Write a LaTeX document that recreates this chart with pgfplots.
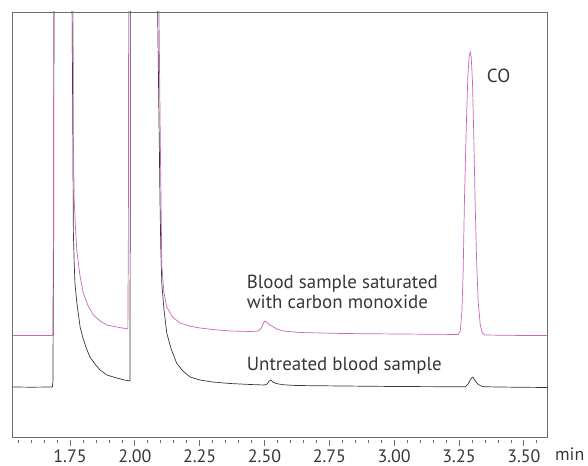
\documentclass[border=0pt]{standalone}
\usepackage{pgfplots}
\pgfplotsset{compat=1.18}
\usepackage{fontspec}
\setmainfont{PT Sans}
\definecolor{pinkline}{RGB}{204,102,187}
\definecolor{darkline}{RGB}{55,55,55}
\definecolor{framegray}{RGB}{110,110,110}
\begin{document}
\begin{tikzpicture}
\path[use as bounding box] (-12.7bp,-29bp) rectangle (575.3bp,437bp);
\begin{axis}[
  at={(0,0)}, anchor=south west,
  scale only axis, width=535bp, height=425bp,
  xmin=1.529, xmax=3.592, ymin=0, ymax=425,
  xtick=\empty, ytick=\empty,
  axis line style={framegray, line width=0.7bp},
  clip mode=individual,
  font=\fontsize{19}{20}\selectfont,
]
\addplot[darkline, line width=0.7bp] coordinates {
(1.529,50) (1.600,49.8) (1.682,50) (1.684,55) (1.687,200) (1.689,600)
(1.756,600) (1.758,425) (1.761,300) (1.763,204) (1.766,175) (1.769,154) (1.776,135)
(1.789,110) (1.801,98) (1.814,88) (1.827,80) (1.846,73) (1.866,67) (1.892,62)
(1.930,59) (1.960,57) (1.981,56) (1.982,200) (1.983,600)
(2.086,600) (2.088,425) (2.093,320) (2.097,237) (2.100,190) (2.104,154) (2.112,128)
(2.123,104) (2.140,88) (2.161,74) (2.185,66) (2.213,60) (2.251,57) (2.300,55)
(2.367,53.5) (2.444,52.5) (2.500,52) (2.510,53) (2.518,56) (2.524,57) (2.532,55)
(2.545,53.5) (2.570,52.3) (2.620,51.5) (2.800,51) (3.000,50.5) (3.200,50.3)
(3.275,50.3) (3.285,53) (3.295,58) (3.303,60) (3.312,56.5) (3.322,53) (3.335,51)
(3.344,50.3) (3.400,50) (3.500,49.7) (3.592,49.5)
};
\addplot[pinkline, line width=0.7bp] coordinates {
(1.529,101.5) (1.600,101.5) (1.682,101.5) (1.684,104) (1.686,200) (1.688,600)
(1.760,600) (1.763,300) (1.766,237) (1.771,210) (1.776,187) (1.788,162) (1.801,144)
(1.820,131) (1.840,122) (1.866,116) (1.892,112) (1.930,110) (1.973,108) (1.975,200)
(1.977,600)
(2.091,600) (2.093,425) (2.098,300) (2.104,170) (2.112,145) (2.123,130) (2.145,120)
(2.174,114) (2.210,111) (2.251,109) (2.300,107.5) (2.367,106) (2.444,105.5)
(2.476,106) (2.488,109) (2.496,114) (2.502,116) (2.508,115) (2.515,113) (2.528,111)
(2.547,108) (2.571,106) (2.637,104.5) (2.800,103.5) (3.023,103) (3.247,102.5)
(3.255,106) (3.261,125) (3.266,165) (3.271,237) (3.278,310) (3.284,360) (3.289,380)
(3.293,385) (3.297,380) (3.302,355) (3.307,300) (3.312,237) (3.318,175) (3.324,135)
(3.332,112) (3.340,104) (3.350,102) (3.400,101.8) (3.500,101.5) (3.592,101.5)
};
\node[anchor=base west, inner sep=0pt, color=darkline] at (axis cs:3.357,354) {CO};
\node[anchor=base west, inner sep=0pt, color=darkline] at (axis cs:2.431,148.5) {Blood sample saturated};
\node[anchor=base west, inner sep=0pt, color=darkline] at (axis cs:2.431,128.5) {with carbon monoxide};
\node[anchor=base west, inner sep=0pt, color=darkline] at (axis cs:2.431,66.3) {Untreated blood sample};
\end{axis}
\begin{axis}[
  at={(0,-3bp)}, anchor=south west,
  scale only axis, width=535bp, height=20bp,
  xmin=1.529, xmax=3.592, ymin=0, ymax=1,
  clip=false,
  hide y axis,
  axis x line*=bottom,
  x axis line style={draw=none},
  xtick={1.75,2.00,2.25,2.50,2.75,3.00,3.25,3.50},
  minor xtick={1.55,1.60,1.65,1.70,1.80,1.85,1.90,1.95,2.05,2.10,2.15,2.20,2.30,2.35,2.40,2.45,2.55,2.60,2.65,2.70,2.80,2.85,2.90,2.95,3.05,3.10,3.15,3.20,3.30,3.35,3.40,3.45,3.55},
  tick align=outside,
  major tick length=6bp, minor tick length=3bp,
  every tick/.style={framegray, line width=0.7bp},
  /pgf/number format/fixed, /pgf/number format/fixed zerofill,
  /pgf/number format/precision=2, /pgf/number format/assume math mode=true,
  xticklabel style={font=\fontsize{18}{18}\selectfont, color=darkline, anchor=base, yshift=-16.5bp},
]
\addplot[draw=none] coordinates {(2,0.5)};
\node[anchor=base west, inner sep=0pt, font=\fontsize{18}{18}\selectfont, color=darkline] at (axis cs:3.620,-1.03) {min};
\end{axis}
\end{tikzpicture}
\end{document}
